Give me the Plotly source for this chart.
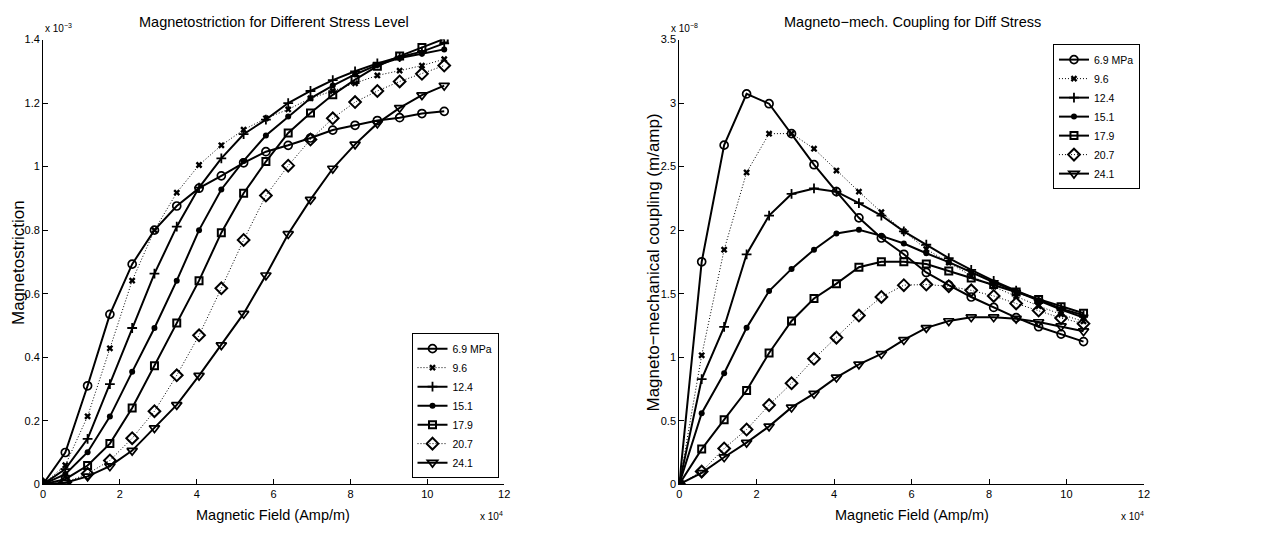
import plotly.graph_objects as go

# Magnetic field (x 10^4 Amp/m)
field = [0, 0.58, 1.16, 1.74, 2.32, 2.90, 3.48, 4.06, 4.64, 5.22,
         5.80, 6.38, 6.96, 7.54, 8.12, 8.70, 9.28, 9.86, 10.44]

stress_labels = ["6.9 MPa", "9.6", "12.4", "15.1", "17.9", "20.7", "24.1"]

# Magnetostriction (x 10^-3)
strain_69 = [0, 0.100, 0.310, 0.535, 0.693, 0.800, 0.876, 0.932, 0.971, 1.012,
             1.047, 1.067, 1.090, 1.115, 1.130, 1.145, 1.154, 1.167, 1.174]
strain_96 = [0, 0.060, 0.214, 0.428, 0.641, 0.800, 0.918, 1.005, 1.067, 1.116,
             1.152, 1.180, 1.215, 1.238, 1.262, 1.287, 1.302, 1.318, 1.338]
strain_124 = [0, 0.048, 0.143, 0.315, 0.492, 0.663, 0.811, 0.934, 1.026, 1.102,
              1.148, 1.200, 1.238, 1.272, 1.300, 1.325, 1.345, 1.362, 1.388]
strain_151 = [0, 0.032, 0.101, 0.213, 0.354, 0.492, 0.641, 0.800, 0.928, 1.018,
              1.098, 1.158, 1.215, 1.255, 1.290, 1.320, 1.342, 1.355, 1.369]
strain_179 = [0, 0.016, 0.059, 0.128, 0.240, 0.373, 0.508, 0.641, 0.792, 0.916,
              1.016, 1.106, 1.169, 1.226, 1.274, 1.316, 1.348, 1.375, 1.402]
strain_207 = [0, 0.006, 0.033, 0.075, 0.145, 0.230, 0.343, 0.469, 0.617, 0.769,
              0.909, 1.003, 1.085, 1.152, 1.203, 1.238, 1.268, 1.292, 1.318]
strain_241 = [0, 0.005, 0.025, 0.057, 0.106, 0.177, 0.250, 0.342, 0.438, 0.537,
              0.658, 0.788, 0.896, 0.994, 1.070, 1.136, 1.185, 1.225, 1.255]

# Magneto-mechanical coupling (x 10^-8 m/amp)
coup_69 = [0, 1.751, 2.669, 3.072, 2.995, 2.759, 2.515, 2.303, 2.097, 1.938,
           1.810, 1.667, 1.567, 1.474, 1.392, 1.312, 1.240, 1.182, 1.123]
coup_96 = [0, 1.015, 1.846, 2.454, 2.759, 2.760, 2.641, 2.469, 2.303, 2.141,
           1.990, 1.850, 1.745, 1.640, 1.555, 1.480, 1.403, 1.337, 1.282]
coup_124 = [0, 0.828, 1.238, 1.810, 2.115, 2.285, 2.328, 2.303, 2.213, 2.115,
            1.990, 1.885, 1.780, 1.688, 1.600, 1.523, 1.450, 1.382, 1.330]
coup_151 = [0, 0.559, 0.874, 1.231, 1.521, 1.695, 1.846, 1.974, 2.003, 1.955,
            1.895, 1.818, 1.748, 1.667, 1.590, 1.518, 1.448, 1.375, 1.312]
coup_179 = [0, 0.277, 0.508, 0.738, 1.033, 1.285, 1.462, 1.579, 1.708, 1.751,
            1.751, 1.733, 1.679, 1.623, 1.572, 1.513, 1.455, 1.398, 1.346]
coup_207 = [0, 0.100, 0.282, 0.431, 0.623, 0.795, 0.987, 1.154, 1.328, 1.474,
            1.567, 1.572, 1.559, 1.526, 1.482, 1.423, 1.367, 1.308, 1.264]
coup_241 = [0, 0.090, 0.213, 0.328, 0.456, 0.605, 0.713, 0.841, 0.944, 1.026,
            1.136, 1.231, 1.285, 1.315, 1.315, 1.303, 1.277, 1.244, 1.205]

strains = [strain_69, strain_96, strain_124, strain_151, strain_179, strain_207, strain_241]
coups = [coup_69, coup_96, coup_124, coup_151, coup_179, coup_207, coup_241]

DOT = "1px,2px"
styles = [
    dict(symbol="circle-open", size=8, lw=1.7, dash="solid", width=2.0),
    dict(symbol="x", size=6, lw=0, dash=DOT, width=1.0),
    dict(symbol="cross-thin", size=7, lw=1.8, dash="solid", width=2.0),
    dict(symbol="circle", size=6, lw=0, dash="solid", width=2.0),
    dict(symbol="square-open", size=7, lw=2.0, dash="solid", width=2.0),
    dict(symbol="diamond-open", size=9, lw=2.0, dash=DOT, width=1.0),
    dict(symbol="triangle-down-open", size=9, lw=1.7, dash="solid", width=2.0),
]

FONT = "Liberation Sans, Arial, Helvetica, sans-serif"
fig = go.Figure()

for label, ys, st in zip(stress_labels, strains, styles):
    fig.add_trace(go.Scatter(
        x=field, y=ys, name=label, mode="lines+markers",
        xaxis="x", yaxis="y", legend="legend",
        line=dict(color="black", width=st["width"], dash=st["dash"]),
        marker=dict(symbol=st["symbol"], size=st["size"], color="black",
                    line=dict(color="black", width=st["lw"]))))

for label, ys, st in zip(stress_labels, coups, styles):
    fig.add_trace(go.Scatter(
        x=field, y=ys, name=label, mode="lines+markers",
        xaxis="x2", yaxis="y2", legend="legend2",
        line=dict(color="black", width=st["width"], dash=st["dash"]),
        marker=dict(symbol=st["symbol"], size=st["size"], color="black",
                    line=dict(color="black", width=st["lw"]))))

W, H = 1284, 533
axis_common = dict(showline=True, linecolor="black", linewidth=1, ticks="inside",
                   ticklen=5, tickcolor="black", showgrid=False, zeroline=False,
                   tickfont=dict(family=FONT, size=11, color="black"), mirror=False)

fig.update_layout(
    width=W, height=H, margin=dict(l=0, r=0, t=0, b=0),
    paper_bgcolor="white", plot_bgcolor="white",
    font=dict(family=FONT, color="black"),
    xaxis=dict(domain=[40.3 / W, 504.7 / W], range=[0, 12], dtick=2, anchor="y", **axis_common),
    yaxis=dict(domain=[1 - 489.3 / H, 1 - 34.3 / H], range=[0, 1.4], dtick=0.2, anchor="x", **axis_common),
    xaxis2=dict(domain=[681 / W, 1149 / W], range=[0, 12], dtick=2, anchor="y2", **axis_common),
    yaxis2=dict(domain=[1 - 489.3 / H, 1 - 34.3 / H], range=[0, 3.5], dtick=0.5, anchor="x2", **axis_common),
    legend=dict(x=499 / W, xanchor="right", y=1 - 483 / H, yanchor="bottom",
                bordercolor="black", borderwidth=1, bgcolor="white",
                font=dict(family=FONT, size=10.5, color="black"), itemwidth=30,
                tracegroupgap=0),
    legend2=dict(x=1145 / W, xanchor="right", y=1 - 39 / H, yanchor="top",
                 bordercolor="black", borderwidth=1, bgcolor="white",
                 font=dict(family=FONT, size=10.5, color="black"), itemwidth=30,
                 tracegroupgap=0),
)

ann = []
def add_text(x, y, text, size, xanchor="center", yanchor="middle", angle=0):
    ann.append(dict(x=x / W, y=1 - y / H, xref="paper", yref="paper", text=text,
                    showarrow=False, xanchor=xanchor, yanchor=yanchor, textangle=angle,
                    font=dict(family=FONT, size=size, color="black")))

add_text(273, 16, "Magnetostriction for Different Stress Level", 14.5)
add_text(916, 16, "Magneto\u2212mech. Coupling for Diff Stress", 14.5)
add_text(272, 521, "Magnetic Field (Amp/m)", 14.5)
add_text(915, 521, "Magnetic Field (Amp/m)", 14.5)
add_text(15, 262, "Magnetostriction", 17, angle=-90)
add_text(655, 262, "Magneto\u2212mechanical coupling (m/amp)", 17, angle=-90)
add_text(40, 31, "x 10<sup>\u22123</sup>", 10, xanchor="left", yanchor="bottom")
add_text(671, 31, "x 10<sup>\u22128</sup>", 10, xanchor="left", yanchor="bottom")
add_text(506, 514, "x 10<sup>4</sup>", 10, xanchor="right", yanchor="top")
add_text(1151, 514, "x 10<sup>4</sup>", 10, xanchor="right", yanchor="top")
fig.update_layout(annotations=ann)

fig.write_html("out.html")
